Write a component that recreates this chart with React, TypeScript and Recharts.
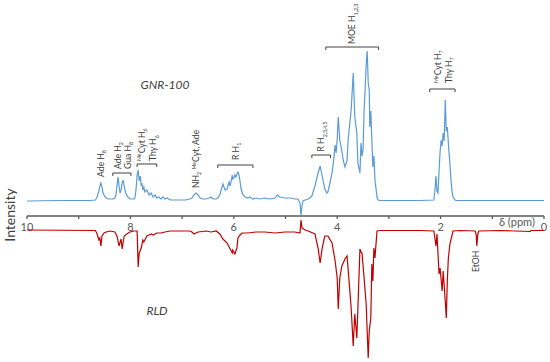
import React from "react";
import { LineChart, Line, XAxis, YAxis, ReferenceLine, ReferenceDot } from "recharts";

const W = 550;
const H = 362;
const FONT = "Lato, 'Open Sans', sans-serif";
const INK = "#404040";
const AXIS_GREY = "#595959";
const BLUE = "#5B9BD5";
const RED = "#C00000";

const PPM_TICKS = [0, 1, 2, 3, 4, 5, 6, 7, 8, 9, 10];

// [ppm, intensity above baseline]
const GNR_100: [number, number][] = [
  [10.0, 0], [9.36, 0.5], [8.78, 0.5], [8.68, 1], [8.65, 3], [8.61, 10], [8.59, 15], [8.57, 18],
  [8.55, 14], [8.53, 8], [8.51, 6], [8.49, 4], [8.47, 3], [8.43, 2], [8.39, 2], [8.34, 2],
  [8.3, 3], [8.28, 6], [8.26, 15], [8.24, 24], [8.22, 15], [8.2, 8], [8.18, 11], [8.16, 18],
  [8.14, 21], [8.12, 15], [8.1, 10], [8.09, 8], [8.07, 6], [8.05, 4], [8.01, 2], [7.97, 2],
  [7.93, 2], [7.91, 4], [7.89, 12], [7.87, 26], [7.85, 31], [7.83, 20], [7.81, 25], [7.79, 15],
  [7.78, 18], [7.76, 11], [7.74, 14], [7.72, 9], [7.68, 11], [7.64, 6], [7.6, 8], [7.56, 4],
  [7.52, 6], [7.49, 3], [7.45, 4], [7.41, 2], [7.37, 4], [7.33, 2], [7.29, 3], [7.23, 1],
  [7.14, 1], [7.04, 1], [6.94, 1], [6.85, 2], [6.81, 3], [6.77, 6], [6.73, 8], [6.69, 6],
  [6.65, 3], [6.6, 2], [6.54, 2], [6.48, 3], [6.44, 4], [6.4, 2], [6.34, 2], [6.31, 3],
  [6.27, 6], [6.25, 10], [6.21, 17], [6.17, 11], [6.13, 12], [6.09, 19], [6.07, 15], [6.05, 20],
  [6.03, 26], [6.02, 22], [6.0, 23], [5.98, 26], [5.96, 24], [5.94, 27], [5.92, 29], [5.9, 26],
  [5.88, 20], [5.86, 12], [5.84, 9], [5.82, 6], [5.78, 4], [5.73, 3], [5.69, 4], [5.63, 2],
  [5.57, 3], [5.49, 2], [5.4, 3], [5.3, 2], [5.2, 3], [5.16, 6], [5.11, 4], [5.01, 3],
  [4.91, 3], [4.82, 2], [4.76, 2], [4.72, -2], [4.7, -14], [4.68, -5], [4.66, 0], [4.62, 1],
  [4.56, 2], [4.53, 3], [4.49, 5], [4.43, 15], [4.37, 28], [4.33, 35], [4.29, 25], [4.24, 12],
  [4.2, 8], [4.18, 9], [4.14, 18], [4.1, 28], [4.07, 40], [4.04, 56], [4.02, 48], [4.0, 62],
  [3.98, 84], [3.95, 61], [3.91, 50], [3.88, 40], [3.85, 34], [3.81, 40], [3.79, 60], [3.75, 81],
  [3.73, 91], [3.69, 128], [3.66, 84], [3.62, 68], [3.6, 38], [3.56, 28], [3.54, 58], [3.52, 45],
  [3.5, 51], [3.48, 90], [3.46, 111], [3.44, 136], [3.42, 150], [3.4, 118], [3.38, 111], [3.37, 74],
  [3.35, 90], [3.33, 61], [3.31, 34], [3.29, 45], [3.27, 21], [3.23, 4], [3.21, 1], [3.17, 0.5],
  [2.79, 0.5], [2.4, 0.5], [2.13, 1], [2.11, 10], [2.09, 25], [2.07, 10], [2.05, 8], [2.03, 30],
  [2.01, 49], [1.99, 61], [1.97, 55], [1.95, 68], [1.93, 60], [1.91, 101], [1.89, 70], [1.87, 74],
  [1.85, 58], [1.84, 50], [1.82, 38], [1.8, 21], [1.78, 10], [1.76, 4], [1.72, 1], [1.7, 0.5],
  [1.62, 0.5], [0.85, 0.5], [0.27, 0.5], [0, 0.5],
];

// [ppm, depth below baseline]
const RLD: [number, number][] = [
  [10.0, 0], [8.68, 0.5], [8.65, 3], [8.61, 10], [8.59, 8], [8.57, 16], [8.55, 6], [8.51, 3],
  [8.47, 2], [8.39, 1], [8.3, 2], [8.28, 4], [8.26, 6], [8.22, 16], [8.18, 9], [8.16, 19],
  [8.12, 6], [8.07, 4], [8.01, 2], [7.93, 1], [7.87, 1], [7.85, 37], [7.83, 23], [7.79, 18],
  [7.76, 10], [7.74, 12], [7.68, 6], [7.64, 5], [7.6, 4], [7.56, 5], [7.49, 3], [7.41, 3],
  [7.33, 2], [7.23, 1], [7.04, 1], [6.85, 1], [6.81, 2], [6.77, 4], [6.73, 3], [6.69, 2],
  [6.54, 1], [6.44, 2], [6.34, 1], [6.27, 4], [6.21, 9], [6.13, 13], [6.07, 19], [6.03, 23],
  [6.02, 20], [5.98, 24], [5.94, 18], [5.92, 8], [5.88, 5], [5.84, 3], [5.73, 3], [5.57, 2],
  [5.4, 2], [5.2, 3], [5.01, 2], [4.82, 2], [4.72, 3], [4.7, -10], [4.68, -2], [4.62, 0],
  [4.56, 1], [4.43, 4], [4.37, 18], [4.33, 33], [4.29, 18], [4.24, 6], [4.18, 6], [4.1, 13],
  [4.04, 31], [4.0, 48], [3.98, 79], [3.95, 48], [3.91, 36], [3.85, 29], [3.81, 26], [3.79, 38],
  [3.73, 78], [3.69, 116], [3.66, 84], [3.62, 108], [3.56, 19], [3.54, 22], [3.52, 23], [3.48, 48],
  [3.44, 74], [3.4, 128], [3.38, 101], [3.35, 88], [3.33, 34], [3.31, 51], [3.29, 18], [3.27, 28],
  [3.23, 1], [3.17, 0.5], [2.79, 0.5], [2.4, 0.5], [2.13, 1], [2.09, 16], [2.07, 4], [2.03, 44],
  [2.01, 38], [1.97, 61], [1.95, 41], [1.91, 71], [1.89, 88], [1.87, 51], [1.85, 28], [1.82, 14],
  [1.76, 1], [1.62, 0.5], [1.33, 1], [1.31, 5], [1.3, 16], [1.28, 4], [1.26, 1], [0.85, 0.5],
  [0.27, 1.5], [0.25, 0.5], [0, 0.5],
];

type Part = [string, ("sub" | "sup")?];

// brackets: [from ppm, to ppm, height]  (height in lower-chart units)
const BRACKETS: [number, number, number][] = [
  [8.34, 7.99, 57],
  [7.87, 7.49, 66],
  [6.31, 5.63, 65],
  [4.49, 4.13, 75],
  [4.22, 3.2, 183],
  [2.21, 1.72, 141],
];

// vertical peak labels: [ppm, height of text start, text]
const PEAK_LABELS: [number, number, Part[]][] = [
  [8.57, 53, [["Ade H"], ["8", "sub"]]],
  [8.24, 61, [["Ade H"], ["2", "sub"]]],
  [8.05, 61, [["Gua H"], ["8", "sub"]]],
  [7.78, 69, [["Me", "sup"], ["Cyt H"], ["6", "sub"]]],
  [7.56, 69, [["Thy H"], ["6", "sub"]]],
  [6.73, 42, [["NH"], ["2", "sub"], [" "], ["Me", "sup"], ["Cyt, Ade"]]],
  [5.96, 70, [["R H"], ["1", "sub"]]],
  [4.31, 78.5, [["R H"], ["2,3,4,5", "sub"]]],
  [3.71, 186, [["MOE H"], ["1,2,3", "sub"]]],
  [2.05, 147, [["Me", "sup"], ["Cyt H"], ["7", "sub"]]],
  [1.84, 147, [["Thy H"], ["7", "sub"]]],
  [1.31, -42, [["EtOH"]]],
];

const blueData = GNR_100.map(([ppm, v]) => ({ ppm, v }));
const redData = RLD.map(([ppm, v]) => ({ ppm, v: -v }));

const LABEL_SIZE = 8.6;

function Rich({ parts, size }: { parts: Part[]; size: number }) {
  let shift = 0;
  return (
    <>
      {parts.map(([s, kind], i) => {
        const target = kind === "sub" ? size * 0.28 : kind === "sup" ? -size * 0.4 : 0;
        const dy = target - shift;
        shift = target;
        return (
          <tspan key={i} dy={dy} fontSize={kind ? size * 0.62 : size}>
            {s}
          </tspan>
        );
      })}
    </>
  );
}

function bracketShape(props: any) {
  const { x1, y1, x2, y2 } = props;
  return (
    <path
      d={`M${x1},${y1 + 3}L${x1},${y1}L${x2},${y2}L${x2},${y2 + 3}`}
      fill="none"
      stroke={INK}
      strokeWidth={1}
    />
  );
}

function columnLabel(parts: Part[]) {
  return (props: any) => {
    const { cx, cy } = props;
    return (
      <text
        x={cx}
        y={cy + LABEL_SIZE * 0.35}
        transform={`rotate(-90 ${cx} ${cy})`}
        fontSize={LABEL_SIZE}
        fill={INK}
        fontFamily={FONT}
      >
        <Rich parts={parts} size={LABEL_SIZE} />
      </text>
    );
  };
}

const layer: React.CSSProperties = { position: "absolute", left: 0, top: 0 };

export default function App() {
  return (
    <div style={{ position: "absolute", left: 0, top: 0, width: W, height: H, background: "#fff" }}>
      {/* upper spectrum + ppm axis */}
      <div style={layer}>
        <LineChart width={W} height={H} margin={{ top: 0, right: 6, left: 27, bottom: 116 }}>
          <XAxis
            type="number"
            dataKey="ppm"
            domain={[0, 10]}
            reversed
            ticks={PPM_TICKS}
            interval={0}
            tickFormatter={(t: number) => (t % 2 === 0 ? String(t) : "")}
            tick={{ fontSize: 11, fill: AXIS_GREY, fontFamily: FONT }}
            stroke={AXIS_GREY}
            strokeWidth={1.3}
            tickSize={3}
            tickMargin={4}
            height={30}
            allowDataOverflow
          />
          <YAxis hide domain={[-15, 201]} allowDataOverflow />
          <Line
            data={blueData}
            dataKey="v"
            stroke={BLUE}
            strokeWidth={1.2}
            dot={false}
            isAnimationActive={false}
          />
        </LineChart>
      </div>

      {/* lower spectrum + annotations */}
      <div style={layer}>
        <LineChart width={W} height={H} margin={{ top: 0, right: 6, left: 27, bottom: 0 }}>
          <XAxis hide type="number" dataKey="ppm" domain={[0, 10]} reversed allowDataOverflow />
          <YAxis hide domain={[-132, 230]} allowDataOverflow />
          <Line
            data={redData}
            dataKey="v"
            stroke={RED}
            strokeWidth={1.2}
            dot={false}
            isAnimationActive={false}
          />
          {BRACKETS.map(([a, b, h], i) => (
            <ReferenceLine
              key={`b${i}`}
              segment={[
                { x: a, y: h },
                { x: b, y: h },
              ]}
              shape={bracketShape}
            />
          ))}
          {PEAK_LABELS.map(([ppm, h, parts], i) => (
            <ReferenceDot key={`l${i}`} x={ppm} y={h} r={0} shape={columnLabel(parts)} />
          ))}
        </LineChart>
      </div>

      <svg width={W} height={H} style={{ ...layer, pointerEvents: "none" }}>
        <text x={165} y={89} textAnchor="middle" fontSize={12} fontStyle="italic" fill={INK} fontFamily={FONT}>
          GNR-100
        </text>
        <text x={157} y={315} textAnchor="middle" fontSize={12} fontStyle="italic" fill={INK} fontFamily={FONT}>
          RLD
        </text>
        <text
          x={10}
          y={215 + 14 * 0.35}
          transform="rotate(-90 10 215)"
          textAnchor="middle"
          fontSize={14}
          fill={INK}
          fontFamily={FONT}
        >
          Intensity
        </text>
        <text x={517} y={226} textAnchor="middle" fontSize={11} fill={AXIS_GREY} fontFamily={FONT}>
          δ (ppm)
        </text>
      </svg>
    </div>
  );
}
